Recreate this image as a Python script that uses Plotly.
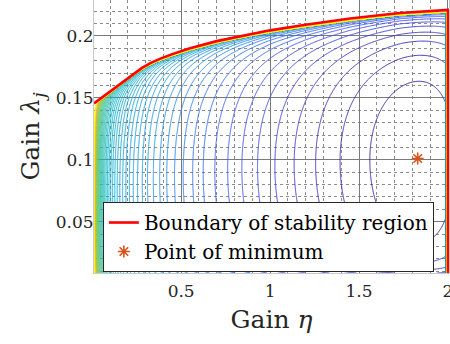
import numpy as np
import plotly.graph_objects as go

# ---- data ----
# boundary of the stability region (upper curve), eta vs lambda
bnd_eta = [0.01, 0.10, 0.20, 0.28, 0.33, 0.38, 0.45, 0.55, 0.70, 0.85, 1.00, 1.20, 1.45, 1.73, 2.00]
bnd_lam = [0.1455, 0.1550, 0.1660, 0.1742, 0.1782, 0.1815, 0.1853, 0.1900, 0.1958, 0.2004, 0.2045, 0.2090, 0.2140, 0.2185, 0.2210]
# the boundary continues down the line eta = 2
edge_eta = [2.0, 2.0]
edge_lam = [0.2210, 0.0]
# point of minimum
min_eta = [1.83]
min_lam = [0.101]

x_tickvals = [0.5, 1, 1.5, 2]
x_ticktext = ["0.5", "1", "1.5", "2"]
y_tickvals = [0.05, 0.1, 0.15, 0.2]
y_ticktext = ["0.05", "0.1", "0.15", "0.2"]

eta_range = [0.01, 2.006]
lam_range = [0.0086, 0.229]

# ---- cost surface (level-set model around the minimum) ----
level_step = 0.1
n_pow = 10.0
d_top, a_bot = 0.33, 0.003
eta0, lam0 = min_eta[0], min_lam[0]
lb0 = float(np.interp(eta0, bnd_eta, bnd_lam))
v0 = lam0 / lb0
b_lin = -(d_top / (1 - v0) - a_bot * lb0 / lam0 ** 2)


def cost(E, Lm, V):
    F = -np.log(E) + (E / eta0) ** n_pow / n_pow
    G = -d_top * np.log(np.clip(1 - V, 1e-12, None)) + a_bot / Lm + b_lin * V
    return (F + G) / level_step


wall = 1.991
eta = np.unique(np.concatenate([
    np.geomspace(0.01, 0.4, 230),
    np.linspace(0.4, 1.9, 300),
    np.linspace(1.9, wall, 40),
    [1.992, 2.0],
]))
lam = np.linspace(lam_range[0], lam_range[1], 520)
E, L = np.meshgrid(eta, lam)
LB = np.interp(E, bnd_eta, bnd_lam)
V = L / LB

Zmin = float(cost(np.array(eta0), np.array(lam0), np.array(v0)))
Zleft = float(cost(np.array(0.0102), np.array(lam0), np.array(lam0 / bnd_lam[0])))
BIG = Zleft + 3

inside = (V < 0.992) & (E <= wall)
Z = np.where(inside, cost(E, L, np.where(inside, V, 0.5)), BIG)
Z = np.round(Z, 3)

# parula colour map and the way level index maps onto it
parula_hex = ["#3E26A8", "#475BF8", "#2796EB", "#08B4D0", "#2BBF9C",
              "#70CB61", "#C2BC3F", "#FDBE3C", "#F9FB14"]
map_t = [0.0, 0.10, 0.23, 0.31, 0.45, 0.55, 0.62, 0.70, 0.80, 0.90, 0.97, 1.0]
map_p = [0.0, 0.09, 0.21, 0.28, 0.33, 0.38, 0.42, 0.50, 0.60, 0.75, 0.90, 1.0]


def parula_at(p):
    rgb = np.array([[int(h[i:i + 2], 16) for i in (1, 3, 5)] for h in parula_hex], float)
    pos = np.linspace(0, 1, len(parula_hex))
    c = [np.interp(p, pos, rgb[:, k]) for k in range(3)]
    return "rgb(%d,%d,%d)" % tuple(int(round(v)) for v in c)


cscale = [[float(t), parula_at(np.interp(t, map_t, map_p))] for t in np.linspace(0, 1, 61)]

serif = "DejaVu Serif, serif"

fig = go.Figure()
fig.add_trace(go.Contour(
    x=eta, y=lam, z=Z,
    colorscale=cscale, zauto=False, zmin=Zmin, zmax=Zleft,
    contours=dict(coloring="lines", start=Zmin + 0.8, end=Zleft + 0.5, size=1),
    line=dict(width=1), showscale=False, showlegend=False, hoverinfo="skip",
))
fig.add_trace(go.Scatter(
    x=bnd_eta + edge_eta, y=bnd_lam + edge_lam, mode="lines",
    line=dict(color="#FF0000", width=2.6),
    name="Boundary of stability region",
))
fig.add_trace(go.Scatter(
    x=min_eta, y=min_lam, mode="markers",
    marker=dict(symbol="asterisk-open", size=10, color="#D95319",
                line=dict(color="#D95319", width=1.6)),
    name="Point of minimum",
))

fig.update_layout(
    width=450, height=344,
    margin=dict(l=94, r=1, t=0, b=71, autoexpand=False),
    paper_bgcolor="white", plot_bgcolor="white",
    font=dict(family=serif, color="#262626", size=17),
    legend=dict(
        x=0.025, y=0.26, xanchor="left", yanchor="top",
        bgcolor="white", bordercolor="#262626", borderwidth=1,
        font=dict(family=serif, size=20, color="#000000"),
        tracegroupgap=0,
    ),
)
fig.update_xaxes(
    range=eta_range, tickvals=x_tickvals, ticktext=x_ticktext,
    showgrid=True, gridcolor="#7a7a7a", gridwidth=1.2,
    minor=dict(dtick=0.1, tick0=0, showgrid=True, gridcolor="#8c8c8c", griddash="dot", gridwidth=1),
    ticks="", zeroline=False, showline=True, linecolor="#c8c8c8", mirror=True,
    tickfont=dict(size=17, family=serif, color="#262626"), ticklabelstandoff=3,
    ticklabeloverflow="allow", automargin=False,
    title=dict(text="Gain <i>η</i>", font=dict(size=25, family=serif, color="#262626"), standoff=10),
)
fig.update_yaxes(
    range=lam_range, tickvals=y_tickvals, ticktext=y_ticktext,
    showgrid=True, gridcolor="#7a7a7a", gridwidth=1.2,
    minor=dict(dtick=0.01, tick0=0, showgrid=True, gridcolor="#8c8c8c", griddash="dot", gridwidth=1),
    ticks="", zeroline=False, showline=True, linecolor="#c8c8c8", mirror=True,
    tickfont=dict(size=17, family=serif, color="#262626"), ticklabelstandoff=-4,
    automargin=False,
    title=dict(text="Gain <i>λ</i><sub><i>j</i></sub>", font=dict(size=25, family=serif, color="#262626"), standoff=8),
)
fig.write_html("out.html")
